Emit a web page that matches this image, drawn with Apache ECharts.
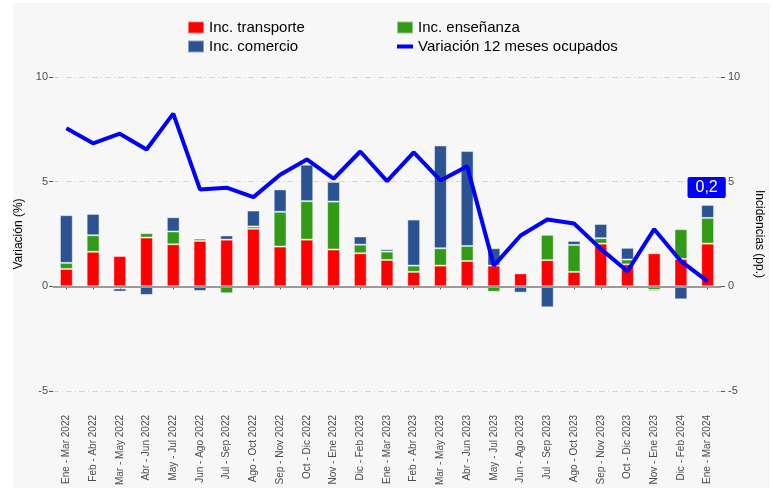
<!DOCTYPE html>
<html>
<head>
<meta charset="utf-8">
<script src="https://cdn.jsdelivr.net/npm/echarts@6/dist/echarts.min.js"></script>
<style>
html,body{margin:0;padding:0;background:#ffffff;}
#c{width:773px;height:490px;}
</style>
</head>
<body>
<div id="c"></div>
<script>
const categories = ["Ene - Mar 2022","Feb - Abr 2022","Mar - May 2022","Abr - Jun 2022","May - Jul 2022","Jun - Ago 2022","Jul - Sep 2022","Ago - Oct 2022","Sep - Nov 2022","Oct - Dic 2022","Nov - Ene 2022","Dic - Feb 2023","Ene - Mar 2023","Feb - Abr 2023","Mar - May 2023","Abr - Jun 2023","May - Jul 2023","Jun - Ago 2023","Jul - Sep 2023","Ago - Oct 2023","Sep - Nov 2023","Oct - Dic 2023","Nov - Ene 2023","Dic - Feb 2024","Ene - Mar 2024"];
const transporte = [0.83,1.65,1.45,2.33,2.01,2.17,2.23,2.75,1.90,2.23,1.76,1.58,1.26,0.69,0.99,1.21,0.99,0.62,1.25,0.69,2.04,1.05,1.58,1.31,2.04];
const ensenanza = [0.29,0.79,-0.10,0.21,0.61,0.11,-0.33,0.11,1.66,1.84,2.29,0.41,0.40,0.30,0.83,0.72,-0.26,0.05,1.21,1.29,0.26,0.23,-0.17,1.42,1.23];
const comercio = [2.28,1.02,-0.15,-0.41,0.68,-0.22,0.20,0.76,1.07,1.74,0.94,0.39,0.11,2.20,4.91,4.53,0.83,-0.30,-1.00,0.19,0.68,0.56,-0.07,-0.62,0.62];
const ocupados = [7.55,6.83,7.29,6.54,8.25,4.63,4.71,4.26,5.33,6.06,5.14,6.44,5.03,6.40,5.06,5.73,0.99,2.43,3.19,3.00,1.79,0.72,2.73,1.20,0.24];
const yTicks = [-5,0,5,10];
const lastLabelText = "0,2";
const lastLabelY = 4.72;

const FONT = "'Liberation Sans', Arial, sans-serif";
const chart = echarts.init(document.getElementById('c'), null, {renderer:'canvas'});

const barStyle = (color) => ({color: color, borderColor: 'rgba(255,255,255,0.45)', borderWidth: 1});

const yAxisBase = {
  type: 'value', min: yTicks[0], max: yTicks[yTicks.length-1], interval: 5,
  axisLine: {show: false},
  axisTick: {show: true, length: 4, lineStyle: {color: '#555', width: 1}},
  axisLabel: {color: '#4d4d4d', fontSize: 11, fontFamily: FONT, margin: 5},
  nameLocation: 'middle',
  nameTextStyle: {color: '#000', fontSize: 12, fontFamily: FONT}
};

const legendBase = {top: 15, orient: 'vertical', itemWidth: 16, itemHeight: 12, itemGap: 4,
  textStyle: {fontSize: 15, color: '#000', fontFamily: FONT}};
const lineIcon = 'path://M0,0 L0,0 Z M0,4 L16,4 L16,8 L0,8 Z M16,12 L16,12 Z';

chart.setOption({
  backgroundColor: 'transparent',
  animation: false,
  graphic: [{type:'rect', left: 13, top: 3, shape:{width: 757, height: 485}, style:{fill:'#f7f7f7'}, z: -10}],
  textStyle: {fontFamily: FONT},
  legend: [
    Object.assign({left: 182, data: [{name:'Inc. transporte', icon:'rect'},{name:'Inc. comercio', icon:'rect'}]}, legendBase),
    Object.assign({left: 391, data: [{name:'Inc. enseñanza', icon:'rect'}, {name:'Variación 12 meses ocupados', icon: lineIcon}]}, legendBase)
  ],
  grid: {left: 53, right: 46, top: 77, bottom: 99},
  xAxis: {
    type: 'category', data: categories, boundaryGap: true, offset: 18,
    axisLine: {show: false},
    axisTick: {show: true, alignWithLabel: true, length: 3, lineStyle: {color: '#555'}},
    axisLabel: {rotate: 90, color: '#4d4d4d', fontSize: 10, fontFamily: FONT, margin: 6, interval: 0}
  },
  yAxis: [
    Object.assign({}, yAxisBase, {position: 'left', name: 'Variación (%)', nameGap: 26, nameRotate: 90,
      splitLine: {show: true, lineStyle: {color: '#d6d6d6', width: 1, type: [6,3,1,3]}}}),
    Object.assign({}, yAxisBase, {position: 'right', name: 'Incidencias (pp.)', nameGap: 32, nameRotate: -90,
      axisLabel: {color: '#4d4d4d', fontSize: 11, fontFamily: FONT, margin: 7},
      splitLine: {show: false}})
  ],
  series: [
    {name: 'Inc. transporte', type: 'bar', stack: 'inc', data: transporte, barWidth: '48%', itemStyle: barStyle('#ff0000'),
     markLine: {silent: true, symbol: 'none', label: {show: false}, lineStyle: {color: '#9a9a9a', width: 2, type: 'solid'}, data: [{yAxis: 0}]}},
    {name: 'Inc. enseñanza', type: 'bar', stack: 'inc', data: ensenanza, barWidth: '48%', itemStyle: barStyle('#339a17')},
    {name: 'Inc. comercio', type: 'bar', stack: 'inc', data: comercio, barWidth: '48%', itemStyle: barStyle('#2b5392')},
    {name: 'Variación 12 meses ocupados', type: 'line', data: ocupados, symbol: 'none', z: 5,
     itemStyle: {color: '#0000ff'}, lineStyle: {color: '#0000ff', width: 4},
     markPoint: {symbol: 'rect', symbolSize: 0, data: [{coord: [categories[categories.length-1], lastLabelY], value: lastLabelText}],
       label: {show: true, formatter: lastLabelText, color: '#fff', fontSize: 16, fontFamily: FONT, backgroundColor: '#0000ff',
               padding: [3,8,2,8], borderRadius: 2, offset: [-1, 0]}}}
  ]
});
</script>
</body>
</html>
